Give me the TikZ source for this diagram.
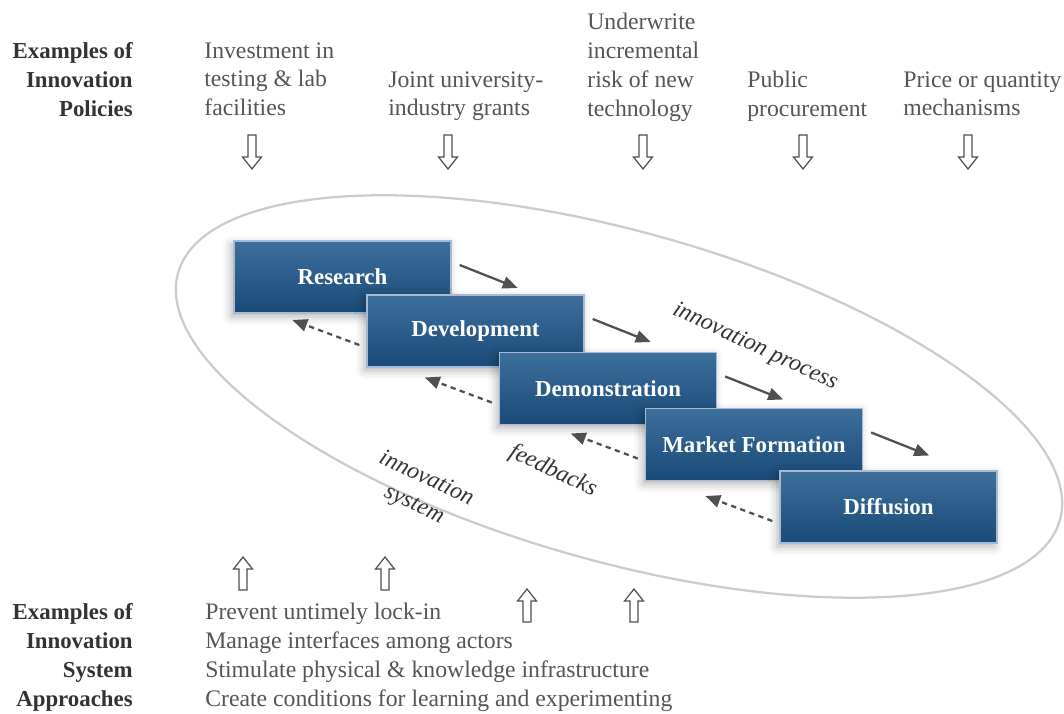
\documentclass[tikz,border=0pt]{standalone}
\usepackage{fontspec}
\setmainfont{Liberation Serif}
\usetikzlibrary{positioning,calc,arrows.meta,shadows.blur}

\definecolor{boxtop}{HTML}{3D6F9D}
\definecolor{boxbot}{HTML}{1A4A77}
\definecolor{boxline}{HTML}{A7BAD3}
\definecolor{txtgray}{HTML}{555555}
\definecolor{headgray}{HTML}{333333}
\definecolor{arrgray}{HTML}{505050}
\definecolor{ringgray}{HTML}{CCCCCC}

\tikzset{
  stage/.style={draw=boxline, line width=0.8pt, top color=boxtop, bottom color=boxbot,
    minimum width=4.34cm, minimum height=1.44cm, inner sep=0pt, text=white,
    font=\bfseries\fontsize{13}{16}\selectfont,
    blur shadow={shadow xshift=-1.5pt, shadow yshift=-2pt, shadow blur radius=5pt, shadow opacity=30}},
  policy/.style={anchor=north west, align=left, inner sep=0pt, text=txtgray,
    font=\fontsize{13.5}{16.44}\selectfont},
  heading/.style={anchor=north east, align=right, inner sep=0pt, text=headgray,
    font=\bfseries\fontsize{13}{16.44}\selectfont},
  note/.style={inner sep=0pt, text=headgray, font=\itshape\fontsize{13.5}{16.44}\selectfont},
  forward/.style={draw=arrgray, line width=1.3pt, -{Triangle[length=8.5pt,width=7pt]}},
  feedback/.style={forward, dash pattern=on 3pt off 2.5pt},
  hollow/.style={draw=arrgray, line width=0.7pt, fill=white}
}

\begin{document}
\begin{tikzpicture}[x=0.02cm, y=-0.02cm]
\useasboundingbox (0,0) rectangle (1064,713);

% innovation system ring
\draw[ringgray, line width=1.3pt, rotate around={-15.65:(619,396.5)}]
  (619,396.5) ellipse [x radius=9.16cm, y radius=3.30cm];

% policies on top
\node[heading] (polhead) at (133,42) {Examples of\\Innovation\\Policies};
\node[policy] (invest) at (204,42) {Investment in\\testing \& lab\\facilities};
\node[policy] (grants) at (388,71) {Joint university-\\industry grants};
\node[policy] (risk) at (587,13) {Underwrite\\incremental\\risk of new\\technology};
\node[policy] (procure) at (747,71) {Public\\procurement};
\node[policy] (price) at (903,71) {Price or quantity\\mechanisms};

\foreach \x in {252,448,643,803,968}
  \draw[hollow] (\x-4,135) -- (\x+4,135) -- (\x+4,157) -- (\x+9.5,157) -- (\x,169)
    -- (\x-9.5,157) -- (\x-4,157) -- cycle;

% stages
\node[stage] (research) at (342.5,277) {Research};
\node[stage] (development) at (475.5,331) {Development};
\node[stage] (demonstration) at (608,388.5) {Demonstration};
\node[stage] (market) at (754,444.5) {Market Formation};
\node[stage] (diffusion) at (888.5,507) {Diffusion};

\foreach \a/\b in {research/development, development/demonstration,
                   demonstration/market, market/diffusion}{
  \coordinate (\a-out) at ($(\a.east)+(8,-12)$);
  \coordinate (\b-in) at ($(\a-out)+(58,23)$);
  \draw[forward] (\a-out) -- (\b-in);
  \coordinate (\b-back) at ($(\b.west)+(-7,14)$);
  \coordinate (\a-back) at ($(\b-back)+(-67,-25)$);
  \draw[feedback] (\b-back) -- (\a-back);
}

\node[note, rotate=-25] (process) at (755,347) {innovation process};
\node[note, rotate=-25] (feedbacks) at (553,471) {feedbacks};
\node[note, rotate=-25, align=center] (system) at (420,492) {innovation\\system};

% innovation system approaches
\foreach \x/\y in {243/557, 385/557, 527/589, 634/589}
  \draw[hollow] (\x,\y) -- (\x+9.5,\y+12) -- (\x+4,\y+12) -- (\x+4,\y+33)
    -- (\x-4,\y+33) -- (\x-4,\y+12) -- (\x-9.5,\y+12) -- cycle;

\node[heading] (syshead) at (133,603) {Examples of\\Innovation\\System\\Approaches};
\node[policy] (approaches) at (205,603) {Prevent untimely lock-in\\Manage interfaces among actors\\Stimulate physical \& knowledge infrastructure\\Create conditions for learning and experimenting};
\end{tikzpicture}
\end{document}
